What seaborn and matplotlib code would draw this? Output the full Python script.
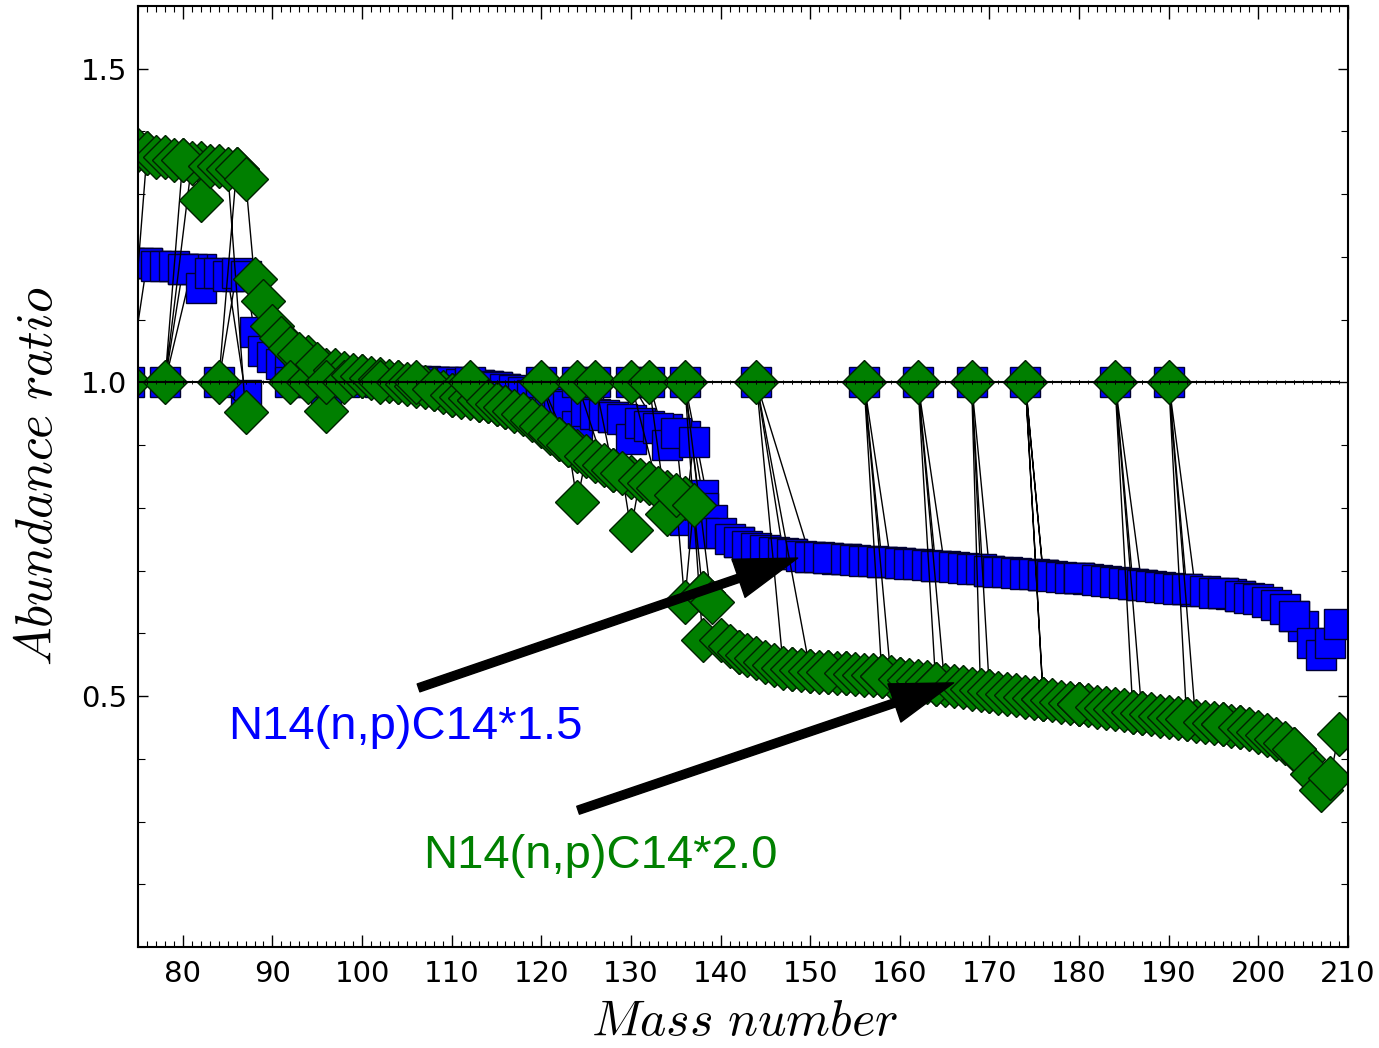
import matplotlib
matplotlib.use("Agg")
import matplotlib.pyplot as plt
from matplotlib.ticker import MultipleLocator
import pandas as pd
import seaborn as sns

# Isotopes ordered element by element (Z), mass number per isotope
mass = [
    73, 74, 76,                                   # Ge
    75,                                           # As
    74, 76, 77, 78, 80, 82,                       # Se
    79, 81,                                       # Br
    78, 80, 82, 83, 84, 86,                       # Kr
    85, 87,                                       # Rb
    84, 86, 87, 88,                               # Sr
    89,                                           # Y
    90, 91, 92, 94, 96,                           # Zr
    93,                                           # Nb
    92, 94, 95, 96, 97, 98, 100,                  # Mo
    96, 98, 99, 100, 101, 102, 104,               # Ru
    103,                                          # Rh
    102, 104, 105, 106, 108, 110,                 # Pd
    107, 109,                                     # Ag
    106, 108, 110, 111, 112, 113, 114, 116,       # Cd
    113, 115,                                     # In
    112, 114, 115, 116, 117, 118, 119, 120, 122, 124,  # Sn
    121, 123,                                     # Sb
    120, 122, 123, 124, 125, 126, 128, 130,       # Te
    127,                                          # I
    124, 126, 128, 129, 130, 131, 132, 134, 136,  # Xe
    133,                                          # Cs
    130, 132, 134, 135, 136, 137, 138,            # Ba
    138, 139,                                     # La
    136, 138, 140, 142,                           # Ce
    141,                                          # Pr
    142, 143, 144, 145, 146, 148, 150,            # Nd
    144, 147, 148, 149, 150, 152, 154,            # Sm
    151, 153,                                     # Eu
    152, 154, 155, 156, 157, 158, 160,            # Gd
    159,                                          # Tb
    156, 158, 160, 161, 162, 163, 164,            # Dy
    165,                                          # Ho
    162, 164, 166, 167, 168, 170,                 # Er
    169,                                          # Tm
    168, 170, 171, 172, 173, 174, 176,            # Yb
    175, 176,                                     # Lu
    174, 176, 177, 178, 179, 180,                 # Hf
    180, 181,                                     # Ta
    180, 182, 183, 184, 186,                      # W
    185, 187,                                     # Re
    184, 186, 187, 188, 189, 190, 192,            # Os
    191, 193,                                     # Ir
    190, 192, 194, 195, 196, 198,                 # Pt
    197,                                          # Au
    196, 198, 199, 200, 201, 202, 204,            # Hg
    203, 205,                                     # Tl
    204, 206, 207, 208,                           # Pb
    209,                                          # Bi
]

# Abundance ratio, N14(n,p)C14 rate x1.5
ratio_x15 = [
    1.19, 1.19, 1.19,
    1.19,
    1.0, 1.19, 1.185, 1.185, 1.18, 1.18,
    1.185, 1.18,
    1.0, 1.18, 1.15, 1.175, 1.175, 1.17,
    1.17, 0.98,
    1.0, 1.175, 1.17, 1.08,
    1.05,
    1.04, 1.03, 1.025, 1.02, 1.01,
    1.02,
    1.0, 1.0, 1.015, 0.985, 1.01, 1.01, 1.008,
    1.0, 1.0, 1.01, 1.008, 1.006, 1.005, 1.003,
    1.004,
    1.0, 1.003, 1.003, 1.002, 1.001, 1.0,
    1.002, 1.0,
    1.0, 1.001, 1.0, 0.998, 0.997, 0.996, 0.995, 0.99,
    0.996, 0.993,
    1.0, 0.995, 0.993, 0.99, 0.988, 0.985, 0.98, 0.975, 0.965, 0.96,
    0.97, 0.962,
    1.0, 0.965, 0.962, 0.93, 0.955, 0.95, 0.945, 0.94,
    0.948,
    1.0, 1.0, 0.945, 0.942, 0.91, 0.935, 0.93, 0.925, 0.915,
    0.928,
    1.0, 1.0, 0.90, 0.92, 0.78, 0.905, 0.82,
    0.80, 0.78,
    1.0, 0.76, 0.76, 0.745,
    0.75,
    0.745, 0.74, 0.736, 0.733, 0.73, 0.726, 0.722,
    1.0, 0.728, 0.726, 0.724, 0.722, 0.72, 0.718,
    0.721, 0.719,
    0.72, 0.718, 0.717, 0.716, 0.715, 0.714, 0.712,
    0.713,
    1.0, 0.714, 0.712, 0.711, 0.71, 0.709, 0.708,
    0.707,
    1.0, 0.708, 0.706, 0.704, 0.703, 0.70,
    0.702,
    1.0, 0.70, 0.698, 0.697, 0.696, 0.695, 0.693,
    0.694, 0.693,
    1.0, 0.693, 0.692, 0.69, 0.689, 0.688,
    0.688, 0.686,
    0.688, 0.685, 0.683, 0.682, 0.679,
    0.68, 0.677,
    1.0, 0.679, 0.677, 0.676, 0.674, 0.673, 0.67,
    0.671, 0.668,
    1.0, 0.67, 0.667, 0.665, 0.664, 0.66,
    0.662,
    0.664, 0.66, 0.657, 0.654, 0.65, 0.645, 0.628,
    0.638, 0.612,
    0.628, 0.585, 0.565, 0.585,
    0.615,
]

# Abundance ratio, N14(n,p)C14 rate x2.0
ratio_x20 = [
    1.375, 1.37, 1.365,
    1.37,
    1.0, 1.365, 1.36, 1.36, 1.355, 1.35,
    1.355, 1.35,
    1.0, 1.355, 1.29, 1.345, 1.345, 1.34,
    1.34, 0.953,
    1.0, 1.34, 1.325, 1.165,
    1.13,
    1.09, 1.07, 1.055, 1.04, 1.02,
    1.045,
    1.0, 1.0, 1.03, 0.955, 1.02, 1.015, 1.01,
    1.0, 1.0, 1.012, 1.01, 1.007, 1.005, 1.0,
    1.002,
    1.0, 1.0, 0.997, 0.995, 0.99, 0.98,
    0.992, 0.985,
    1.0, 0.99, 0.98, 0.977, 0.975, 0.972, 0.97, 0.96,
    0.972, 0.965,
    1.0, 0.97, 0.965, 0.96, 0.955, 0.95, 0.94, 0.93, 0.91, 0.89,
    0.92, 0.90,
    1.0, 0.91, 0.90, 0.81, 0.882, 0.875, 0.86, 0.85,
    0.868,
    1.0, 1.0, 0.86, 0.855, 0.765, 0.845, 0.84, 0.825, 0.815,
    0.832,
    1.0, 1.0, 0.79, 0.82, 0.65, 0.805, 0.665,
    0.665, 0.65,
    1.0, 0.59, 0.59, 0.57,
    0.58,
    0.57, 0.565, 0.56, 0.555, 0.55, 0.543, 0.54,
    1.0, 0.545, 0.543, 0.541, 0.54, 0.538, 0.536,
    0.539, 0.537,
    0.538, 0.536, 0.535, 0.534, 0.533, 0.532, 0.528,
    0.53,
    1.0, 0.532, 0.528, 0.526, 0.524, 0.522, 0.52,
    0.518,
    1.0, 0.52, 0.516, 0.514, 0.512, 0.508,
    0.51,
    1.0, 0.508, 0.505, 0.503, 0.501, 0.499, 0.495,
    0.497, 0.495,
    1.0, 0.495, 0.493, 0.491, 0.489, 0.487,
    0.487, 0.485,
    0.487, 0.483, 0.481, 0.479, 0.475,
    0.477, 0.473,
    1.0, 0.475, 0.473, 0.471, 0.469, 0.467, 0.463,
    0.465, 0.461,
    1.0, 0.463, 0.459, 0.457, 0.455, 0.45,
    0.453,
    0.455, 0.45, 0.447, 0.443, 0.438, 0.432, 0.415,
    0.425, 0.40,
    0.415, 0.375, 0.35, 0.37,
    0.44,
]

# Reference run (ratio of the baseline to itself)
ratio_ref = [1.0] * len(mass)

label_x15 = "N14(n,p)C14*1.5"
label_x20 = "N14(n,p)C14*2.0"

df = pd.DataFrame({"mass": mass, "x15": ratio_x15, "x20": ratio_x20, "ref": ratio_ref})

sns.set_theme(style="white")
plt.rcParams["font.family"] = ["DejaVu Sans"]
plt.rcParams["mathtext.fontset"] = "cm"

W, H = 1379, 1048
fig = plt.figure(figsize=(W / 100, H / 100), dpi=100)
L, R, T, B = 138, 1348, 6, 947
ax = fig.add_axes([L / W, 1 - B / H, (R - L) / W, (B - T) / H])

common = dict(x="mass", sort=False, estimator=None, ax=ax, color="black",
              linewidth=1.0, legend=False)
sns.lineplot(data=df, y="x15", marker="s", markersize=22,
             markerfacecolor="#0000ff", markeredgecolor="#000033",
             markeredgewidth=1.0, **common)
sns.lineplot(data=df, y="x20", marker="D", markersize=22,
             markerfacecolor="#007f00", markeredgecolor="#002200",
             markeredgewidth=1.0, **common)
sns.lineplot(data=df, y="ref", x="mass", sort=False, estimator=None, ax=ax,
             color="black", linewidth=1.5, marker="|", markersize=3.5,
             markeredgecolor="black", markeredgewidth=0.6, legend=False)

ax.set_xlim(75, 210)
ax.set_ylim(0.1, 1.6)

ax.xaxis.set_major_locator(MultipleLocator(10))
ax.xaxis.set_minor_locator(MultipleLocator(1))
ax.yaxis.set_major_locator(MultipleLocator(0.5))
ax.yaxis.set_minor_locator(MultipleLocator(0.1))

ax.tick_params(axis="both", which="both", direction="in", top=True, right=True,
               bottom=True, left=True, colors="black", labelcolor="black")
ax.tick_params(axis="x", which="major", length=9, width=1, labelsize=21, pad=9)
ax.tick_params(axis="x", which="minor", length=4.5, width=0.8)
ax.tick_params(axis="y", which="major", length=7, width=1, labelsize=21, pad=8)
ax.tick_params(axis="y", which="minor", length=5, width=0.8)
for s in ax.spines.values():
    s.set_color("black")
    s.set_linewidth(1.5)

ax.set_xlabel(r"$Mass\ number$", fontsize=36, color="black")
ax.set_ylabel(r"$Abundance\ ratio$", fontsize=37, color="black")
ax.xaxis.set_label_coords(0.501, -0.053)
ax.yaxis.set_label_coords(-0.062, 0.5)

arrow = dict(facecolor="black", edgecolor="black", width=6, headwidth=29,
             headlength=45, shrink=0.0)
ax.annotate("", xy=(148.6, 0.720), xytext=(106.3, 0.513), arrowprops=arrow)
ax.annotate("", xy=(166.0, 0.521), xytext=(124.1, 0.318), arrowprops=arrow)

ax.text(85.05, 0.45, label_x15, color="#0000ff", fontsize=34,
        family="Liberation Sans", ha="left", va="center")
ax.text(106.8, 0.2455, label_x20, color="#008000", fontsize=34,
        family="Liberation Sans", ha="left", va="center")

fig.savefig("out.png", dpi=100)
